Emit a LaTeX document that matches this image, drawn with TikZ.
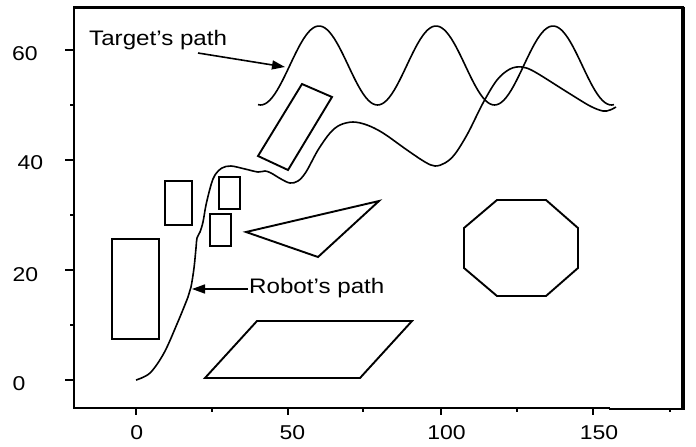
\documentclass[tikz,border=0pt]{standalone}
\usepackage{fontspec}
\setmainfont{Liberation Sans}[FakeStretch=1.15]
\usetikzlibrary{arrows.meta}
\tikzset{
  frameline/.style={line width=2.2pt, line cap=rect},
  tickline/.style={line width=1.6pt},
  obst/.style={line width=1.9pt, line join=miter},
  pathline/.style={line width=1.6pt, line join=round},
  annot/.style={inner sep=0pt, font=\fontsize{21}{24}\selectfont},
  ticklab/.style={inner sep=0pt, font=\fontsize{20}{23}\selectfont},
  pointer/.style={line width=1.6pt, -{Triangle[length=13pt,width=9pt]}}
}
\begin{document}
\begin{tikzpicture}[x=1pt,y=-1pt]
\useasboundingbox (0,0) rectangle (696,447);
% frame
\draw[frameline] (74,7.5) -- (683,7.5);
\draw[frameline] (74,7.5) -- (74,408) -- (609,408);
\draw[line width=2.5pt] (609,409) -- (684,409);
\draw[line width=3.4pt] (683,6.5) -- (683,410);
% y ticks
\foreach \yy in {50,160,270,380} \draw[tickline] (65,\yy) -- (74,\yy);
\foreach \yy in {105,215,325} \draw[tickline] (70,\yy) -- (74,\yy);
% x ticks
\foreach \xx in {136,288,441,593} \draw[tickline] (\xx,408) -- (\xx,415);
\foreach \xx in {212,363,517,670} \draw[tickline] (\xx,408) -- (\xx,412);
% tick labels
\node[ticklab] (y60) at (25,53.3) {60};
\node[ticklab] (y40) at (30.5,162.5) {40};
\node[ticklab] (y20) at (25.5,275) {20};
\node[ticklab] (y0) at (19,384) {0};
\node[ticklab] (x0) at (136.7,432.5) {0};
\node[ticklab] (x50) at (292.5,432.5) {50};
\node[ticklab] (x100) at (446.5,432.5) {100};
\node[ticklab] (x150) at (599,432.5) {150};
% obstacles
\draw[obst] (112,239) rectangle (159,339);
\draw[obst] (165,181) rectangle (192,225);
\draw[obst] (219,177) rectangle (240,209);
\draw[obst] (210,214) rectangle (231,246);
\draw[obst] (302,84) -- (332,97) -- (288,170) -- (258,156) -- cycle;
\draw[obst] (246,232) -- (379,201) -- (318,257) -- cycle;
\draw[obst] (257,321) -- (412,321) -- (360,378) -- (205,378) -- cycle;
\draw[obst] (497,200) -- (546,200) -- (578,228) -- (578,268) -- (546,296) -- (497,296) -- (464,268) -- (464,228) -- cycle;
% target path
\draw[pathline] plot[domain=258:614, samples=150] (\x, {65.5-39.5*cos((\x-319)/117*360)});
% robot path
\draw[pathline] plot[smooth, tension=0.55] coordinates {
 (136,380) (150,373) (164,353) (177,324) (188,297) (191,287) (194,268) (196,248)
 (197,238) (200,232) (203,222) (206,205) (211,185) (215,175) (222,168) (231,166)
 (245,169) (258,172) (265,171) (271,173) (281,179) (290,183) (298,181) (306,172)
 (318,150) (330,133) (340,125) (353,122) (367,125) (383,133) (407,150) (425,162)
 (435,166) (445,163) (455,154) (468,133) (483,103) (497,80) (510,69) (522,67)
 (535,72) (567,92) (590,106) (603,111) (610,110) (616,107)};
% annotations
\node[annot, anchor=base west] (tlab) at (89,45.7) {Target’s path};
\node[annot, anchor=base west] (rlab) at (249,293) {Robot’s path};
\coordinate (tstart) at (198,53);
\coordinate (ttip) at (285,67);
\coordinate (rstart) at (248,289);
\coordinate (rtip) at (192,289);
\draw[pointer] (tstart) -- (ttip);
\draw[pointer] (rstart) -- (rtip);
\end{tikzpicture}
\end{document}
